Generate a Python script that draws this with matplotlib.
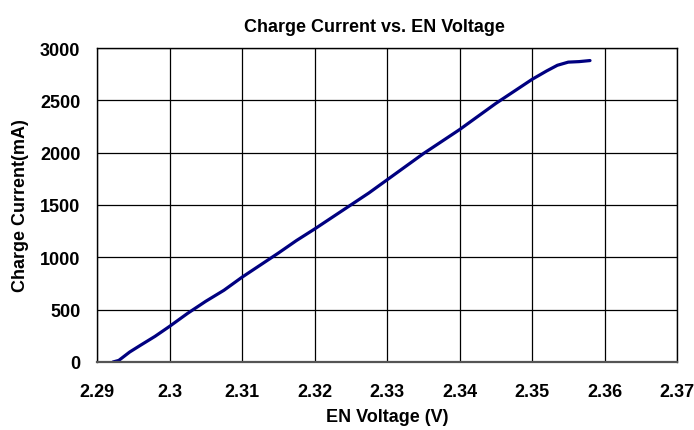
import matplotlib.pyplot as plt

# EN voltage (V) vs charge current (mA)
en_voltage = [2.2922, 2.2930, 2.2945, 2.2960, 2.2980, 2.3000, 2.3025, 2.3050,
              2.3075, 2.3100, 2.3125, 2.3150, 2.3175, 2.3200, 2.3225, 2.3250,
              2.3275, 2.3300, 2.3325, 2.3350, 2.3375, 2.3400, 2.3425, 2.3450,
              2.3475, 2.3500, 2.3520, 2.3535, 2.3550, 2.3565, 2.3580]
charge_current = [0, 15, 95, 160, 245, 340, 465, 580, 685, 810, 925, 1040,
                  1160, 1270, 1385, 1500, 1615, 1740, 1865, 1990, 2105, 2220,
                  2345, 2470, 2585, 2700, 2780, 2835, 2865, 2870, 2880]

x_ticks = [2.29, 2.3, 2.31, 2.32, 2.33, 2.34, 2.35, 2.36, 2.37]
x_labels = ["2.29", "2.3", "2.31", "2.32", "2.33", "2.34", "2.35", "2.36", "2.37"]
y_ticks = [0, 500, 1000, 1500, 2000, 2500, 3000]

plt.rcParams['font.family'] = ['Liberation Sans', 'DejaVu Sans']
plt.rcParams['font.weight'] = 'bold'

fig = plt.figure(figsize=(6.94, 4.31), dpi=100)
ax = fig.add_axes([0.1398, 0.1578, 0.8357, 0.7285])

ax.plot(en_voltage, charge_current, color='#000080', lw=2.3, solid_capstyle='round')

ax.set_xlim(2.29, 2.37)
ax.set_ylim(0, 3000)
ax.set_xticks(x_ticks)
ax.set_xticklabels(x_labels)
ax.set_yticks(y_ticks)
ax.tick_params(length=0, labelsize=13)
ax.tick_params(axis='x', pad=15)
ax.tick_params(axis='y', pad=12)
for lbl in ax.get_xticklabels() + ax.get_yticklabels():
    lbl.set_fontweight('bold')

ax.grid(True, color='black', lw=0.9)
for sp in ax.spines.values():
    sp.set_color('black')
    sp.set_linewidth(1.0)
ax.spines['bottom'].set_color('#555555')
ax.spines['bottom'].set_linewidth(1.6)

# title sits a little left of the axes centre in the original
ax.set_title("Charge Current vs. EN Voltage", fontsize=13, fontweight='bold',
             pad=12, x=0.479)
ax.set_xlabel("EN Voltage (V)", fontsize=13, fontweight='bold', labelpad=6)
ax.set_ylabel("Charge Current(mA)", fontsize=13, fontweight='bold', labelpad=8)

fig.savefig("out.png", dpi=100)
